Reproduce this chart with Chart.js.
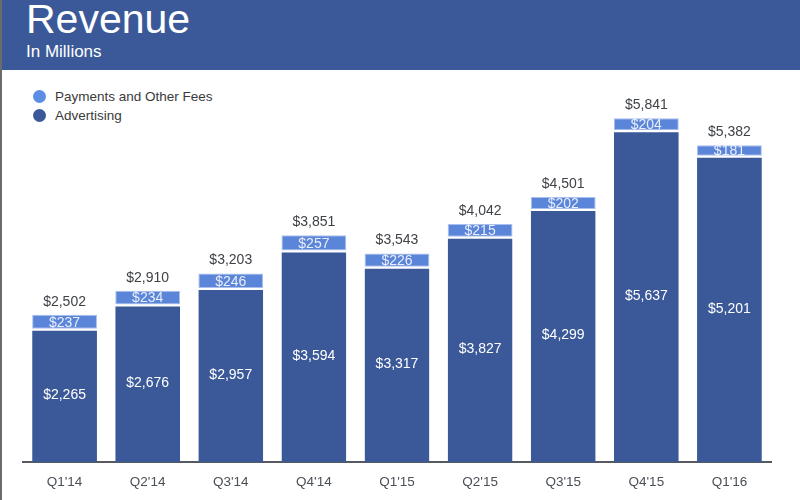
<!DOCTYPE html>
<html>
<head>
<meta charset="utf-8">
<script src="https://cdn.jsdelivr.net/npm/chart.js@4/dist/chart.umd.min.js"></script>
<style>
  html, body { margin: 0; padding: 0; background: #fff; }
  body { width: 800px; height: 500px; position: relative; overflow: hidden; font-family: "Liberation Sans", Arial, sans-serif; }
  #banner { position: absolute; left: 0; top: 0; width: 800px; height: 70px; background: #3b5998; color: #fff; }
  #banner .title { position: absolute; left: 26px; top: -4px; font-size: 41px; }
  #banner .sub { position: absolute; left: 26px; top: 42px; font-size: 17px; }
  #edge { position: absolute; left: 0; top: 0; width: 2px; height: 500px; background: #6b6b6b; }
  .legend { position: absolute; left: 33px; font-size: 13.5px; color: #3a3a3a; }
  .legend span { display: inline-block; width: 13px; height: 13px; border-radius: 50%; vertical-align: -2px; margin-right: 9px; }
  #wrap { position: absolute; left: 0; top: 70px; width: 800px; height: 430px; }
</style>
</head>
<body>
<div id="banner"><div class="title">Revenue</div><div class="sub">In Millions</div></div>
<div class="legend" style="top:89px"><span style="background:#5b8ee4"></span>Payments and Other Fees</div>
<div class="legend" style="top:108px"><span style="background:#3b5998"></span>Advertising</div>
<div id="wrap"><canvas id="revenue-chart" width="800" height="430"></canvas></div>
<div id="edge"></div>
<script>
document.addEventListener('DOMContentLoaded', function() {
    // Quarterly revenue, millions of USD
    const quarters = ['Q1\'14', 'Q2\'14', 'Q3\'14', 'Q4\'14', 'Q1\'15', 'Q2\'15', 'Q3\'15', 'Q4\'15', 'Q1\'16'];
    const advertising = [2265, 2676, 2957, 3594, 3317, 3827, 4299, 5637, 5201];
    const paymentsFees = [237, 234, 246, 257, 226, 215, 202, 204, 181];
    const totals = [2502, 2910, 3203, 3851, 3543, 4042, 4501, 5841, 5382];

    const fmt = v => '$' + v.toLocaleString('en-US');

    // value labels inside segments and totals above bars
    const labelPlugin = {
        id: 'barLabels',
        afterDatasetsDraw(chart) {
            const ctx = chart.ctx;
            ctx.save();
            ctx.textAlign = 'center';
            ctx.textBaseline = 'middle';
            ctx.font = '14px "Liberation Sans", Arial, sans-serif';
            const adMeta = chart.getDatasetMeta(0);
            const payMeta = chart.getDatasetMeta(1);
            adMeta.data.forEach((bar, i) => {
                ctx.fillStyle = '#ffffff';
                ctx.fillText(fmt(advertising[i]), bar.x, (bar.y + bar.base) / 2);
                const pb = payMeta.data[i];
                ctx.fillStyle = '#e8eefb';
                ctx.fillText(fmt(paymentsFees[i]), pb.x, (pb.y + pb.base) / 2 + 1);
                ctx.fillStyle = '#3f4247';
                ctx.fillText(fmt(totals[i]), pb.x, pb.y - 13);
            });
            ctx.restore();
        }
    };

    new Chart(document.getElementById('revenue-chart').getContext('2d'), {
        type: 'bar',
        data: {
            labels: quarters,
            datasets: [
                {
                    label: 'Advertising',
                    data: advertising,
                    backgroundColor: '#3b5998',
                    borderColor: '#ffffff',
                    borderWidth: { top: 2, left: 0, right: 0, bottom: 0 },
                    borderSkipped: false
                },
                {
                    label: 'Payments and Other Fees',
                    data: paymentsFees,
                    backgroundColor: '#5b85d8',
                    borderColor: '#a9c0ee',
                    borderWidth: 1,
                    borderSkipped: false
                }
            ]
        },
        options: {
            responsive: false,
            animation: false,
            datasets: { bar: { categoryPercentage: 1, barPercentage: 0.78 } },
            layout: { padding: { left: 23, right: 29, top: 27, bottom: 0 } },
            plugins: { legend: { display: false }, tooltip: { enabled: false } },
            scales: {
                x: {
                    stacked: true,
                    grid: { display: false },
                    border: { color: '#555a60', width: 2 },
                    ticks: { color: '#4b4f56', font: { size: 13.5, family: '"Liberation Sans", Arial, sans-serif' }, padding: 4 },
                    afterFit: s => { s.height = 38; }
                },
                y: {
                    stacked: true,
                    display: false,
                    min: 0,
                    max: 6200
                }
            }
        },
        plugins: [labelPlugin]
    });
});
</script>
</body>
</html>
